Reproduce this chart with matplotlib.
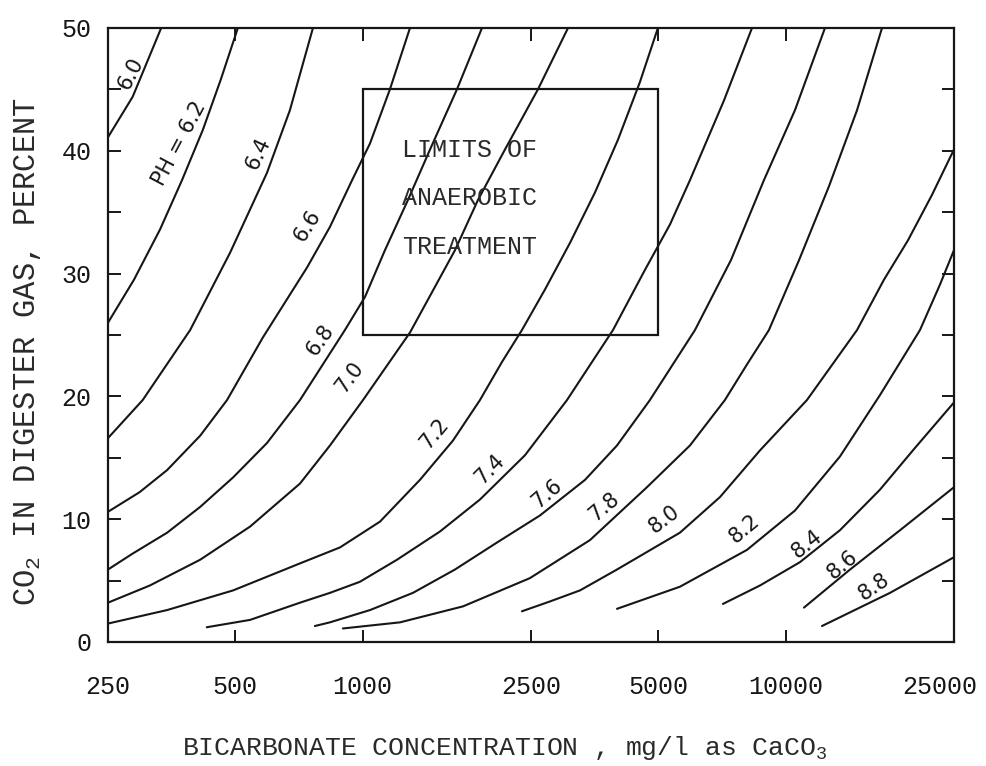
import matplotlib
matplotlib.use("Agg")
import matplotlib.pyplot as plt
from matplotlib.patches import Rectangle
from matplotlib.ticker import NullLocator

plt.rcParams["font.family"] = ["Liberation Mono", "DejaVu Sans Mono"]
plt.rcParams["mathtext.fontset"] = "custom"
plt.rcParams["mathtext.rm"] = "Liberation Mono"
plt.rcParams["mathtext.it"] = "Liberation Mono"

# bicarbonate (mg/l as CaCO3) and CO2 (%)
hco3_60 = [250, 286, 334]
co2_60 = [41.1, 44.4, 50.0]

hco3_62 = [250, 288, 332, 374, 419, 462, 507]
co2_62 = [26.0, 29.5, 33.6, 37.6, 41.7, 45.8, 50.0]

hco3_64 = [250, 302, 391, 486, 594, 673, 763]
co2_64 = [16.6, 19.7, 25.4, 31.7, 38.2, 43.3, 50.0]

hco3_66 = [250, 297, 345, 413, 478, 581, 739, 837, 944, 1041, 1160, 1294]
co2_66 = [10.6, 12.2, 14.0, 16.8, 19.7, 24.8, 30.5, 33.8, 37.6, 40.6, 45.0, 50.0]

hco3_68 = [250, 286, 345, 413, 494, 594, 711, 908, 1013, 1129, 1280, 1443, 1671, 1915]
co2_68 = [5.9, 7.2, 8.9, 11.0, 13.4, 16.2, 19.7, 25.4, 28.1, 31.9, 36.0, 40.1, 45.0, 50.0]

hco3_70 = [250, 314, 413, 542, 711, 837, 1002, 1294, 1653, 1874, 2170, 2597, 3059]
co2_70 = [3.2, 4.6, 6.7, 9.4, 12.9, 16.0, 19.7, 25.2, 31.9, 36.0, 40.1, 45.0, 50.0]

hco3_72 = [250, 345, 494, 711, 884, 1099, 1366, 1635, 1894, 2135, 2380, 2698, 3092, 3542, 4015, 4525, 4990]
co2_72 = [1.5, 2.6, 4.2, 6.4, 7.7, 9.8, 13.2, 16.4, 19.7, 22.8, 25.4, 28.7, 32.5, 36.6, 40.9, 45.6, 50.0]

hco3_74 = [428, 542, 711, 837, 985, 1206, 1524, 1894, 2419, 3042, 3907, 4650, 5329, 5940, 7150, 8328]
co2_74 = [1.2, 1.8, 3.2, 4.0, 4.9, 6.7, 9.0, 11.6, 15.2, 19.7, 25.4, 30.3, 34.0, 37.6, 44.1, 50.0]

hco3_76 = [771, 837, 1041, 1315, 1653, 2078, 2625, 3355, 3993, 4777, 6105, 7427, 8885, 10520, 12390]
co2_76 = [1.3, 1.6, 2.6, 4.0, 5.9, 8.1, 10.3, 13.2, 16.0, 19.7, 25.4, 31.1, 37.6, 43.3, 50.0]

hco3_78 = [898, 1226, 1727, 2486, 3448, 4700, 5940, 7185, 8103, 9132, 10760, 12660, 14750, 16900]
co2_78 = [1.1, 1.6, 2.9, 5.2, 8.3, 12.6, 16.0, 19.7, 22.6, 25.4, 31.1, 37.1, 43.3, 50.0]

hco3_80 = [2380, 2772, 3265, 3993, 5625, 6995, 8697, 11230, 14750, 17080, 19460, 22180, 25000]
co2_80 = [2.5, 3.3, 4.2, 5.9, 8.9, 11.8, 15.6, 19.7, 25.4, 29.5, 32.7, 36.4, 40.1]

hco3_82 = [3993, 5625, 8103, 10520, 13440, 16710, 20780, 23170, 25000]
co2_82 = [2.7, 4.5, 7.5, 10.7, 15.1, 20.1, 25.4, 29.1, 31.9]

hco3_84 = [7110, 8697, 10810, 13440, 16710, 20220, 25000]
co2_84 = [3.1, 4.6, 6.5, 9.1, 12.4, 15.8, 19.5]

hco3_86 = [11050, 14200, 18640, 25000]
co2_86 = [2.8, 5.9, 9.1, 12.6]

hco3_88 = [12190, 17650, 25000]
co2_88 = [1.3, 4.0, 6.9]

curves = [
    (hco3_60, co2_60), (hco3_62, co2_62), (hco3_64, co2_64), (hco3_66, co2_66),
    (hco3_68, co2_68), (hco3_70, co2_70), (hco3_72, co2_72), (hco3_74, co2_74),
    (hco3_76, co2_76), (hco3_78, co2_78), (hco3_80, co2_80), (hco3_82, co2_82),
    (hco3_84, co2_84), (hco3_86, co2_86), (hco3_88, co2_88),
]

ph_labels = ["6.0", "PH = 6.2", "6.4", "6.6", "6.8", "7.0", "7.2", "7.4",
             "7.6", "7.8", "8.0", "8.2", "8.4", "8.6", "8.8"]

# limits of anaerobic treatment (bicarbonate range, CO2 range)
limit_hco3 = [1000, 5000]
limit_co2 = [25, 45]
limit_text = ["LIMITS OF", "ANAEROBIC", "TREATMENT"]

x_ticks = [250, 500, 1000, 2500, 5000, 10000, 25000]
x_tick_labels = ["250", "500", "1000", "2500", "5000", "10000", ""]
last_x_label = "25000"
y_ticks = [0, 10, 20, 30, 40, 50]
y_minor_ticks = [5, 15, 25, 35, 45]

# where each pH label sits (data coords) and its angle on screen
label_pos = [
    (283, 46.3, 63), (368, 40.6, 62), (565, 39.8, 65), (740, 33.9, 58),
    (795, 24.6, 55), (930, 21.6, 53), (1480, 17.0, 50), (2000, 14.1, 45),
    (2730, 12.1, 41), (3720, 11.0, 40), (5170, 10.0, 37), (7980, 9.2, 40),
    (11250, 8.0, 38), (13600, 6.3, 40), (16200, 4.5, 34),
]

INK = "#161616"

fig = plt.figure(figsize=(9.87, 7.66), dpi=100)
ax = fig.add_axes([0.1094, 0.1619, 0.8571, 0.8016])
ax.set_xscale("log")
ax.set_xlim(250, 25000)
ax.set_ylim(0, 50)

for x, y in curves:
    ax.plot(x, y, color=INK, lw=1.5, solid_capstyle="round", solid_joinstyle="round")

for text, (lx, ly, rot) in zip(ph_labels, label_pos):
    ax.text(lx, ly, text, rotation=rot, rotation_mode="anchor",
            ha="center", va="center", fontsize=15, color=INK,
            family=["DejaVu Sans"])

ax.add_patch(Rectangle((limit_hco3[0], limit_co2[0]),
                       limit_hco3[1] - limit_hco3[0], limit_co2[1] - limit_co2[0],
                       fill=False, lw=1.6, ec=INK))
for i, line in enumerate(limit_text):
    ax.text(1240, 40.1 - i * 3.95, line, ha="left", va="center",
            fontsize=18, color="#2a2a2a")

ax.set_xticks(x_ticks)
ax.set_xticklabels(x_tick_labels)
ax.xaxis.set_minor_locator(NullLocator())
ax.set_yticks(y_ticks)
ax.set_yticks(y_minor_ticks, minor=True)
ax.tick_params(which="both", direction="in", top=True, right=True,
               length=9, width=1.4, colors=INK, labelsize=18)
ax.tick_params(axis="x", pad=24)
ax.tick_params(axis="y", pad=12)
for s in ax.spines.values():
    s.set_linewidth(1.6)
    s.set_color(INK)

# the right-hand label sits just inside the figure edge, same baseline as the others
last = fig.text(940 / 987, 0, last_x_label, fontsize=18, color=INK,
                ha="center", va="top")
fig.canvas.draw()
first = ax.get_xticklabels()[0]
last.set_y(first.get_window_extent().y1 / fig.bbox.height)

fig.text(505 / 987, 1 - 748 / 766, r"BICARBONATE CONCENTRATION , mg/l as CaCO$_3$",
         ha="center", va="center", fontsize=19, color="#2a2a2a")
fig.text(28 / 987, 1 - 352 / 766, r"CO$_2$ IN DIGESTER GAS, PERCENT",
         ha="center", va="center", rotation=90, fontsize=22, color="#2a2a2a")

fig.savefig("out.png", dpi=100)
